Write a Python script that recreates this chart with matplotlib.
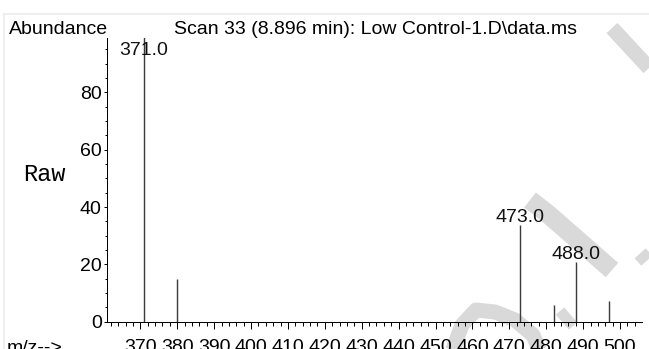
import matplotlib
matplotlib.use("Agg")
import matplotlib.pyplot as plt
from matplotlib.ticker import MultipleLocator
from matplotlib.lines import Line2D

# data
mz = [371.0, 380.0, 473.0, 482.0, 488.0, 497.0]
abundance = [100.0, 14.9, 33.7, 6.0, 20.8, 7.2]
peak_labels = ["371.0", "473.0", "488.0"]
peak_label_mz = [371.0, 473.0, 488.0]
peak_label_y = [93.2, 34.7, 21.8]
x_ticks = [370, 380, 390, 400, 410, 420, 430, 440, 450, 460, 470, 480, 490, 500]
y_ticks = [0, 20, 40, 60, 80]
title = "Scan 33 (8.896 min): Low Control-1.D\\data.ms"

plt.rcParams['font.family'] = ['Liberation Sans', 'DejaVu Sans']
W, H = 649, 349
PT = 72 / 100  # points per pixel
FS = 14

fig = plt.figure(figsize=(W / 100, H / 100), dpi=100)


def px(x, y):
    return (x / W, 1 - y / H)


# faint watermark strokes and frame (decoration)
wm = "#d9d9d9"
strokes = [
    [(530, 200), (548, 214), (612, 270)],
    [(452, 352), (462, 325), (476, 310), (495, 312), (515, 320), (533, 335), (540, 352)],
    [(560, 311), (573, 326)],
    [(612, 28), (649, 68)],
    [(638, 262), (649, 252)],
]
widths = [19, 15, 11, 15, 10]
for pts, w in zip(strokes, widths):
    xs = [p[0] / W for p in pts]
    ys = [1 - p[1] / H for p in pts]
    fig.add_artist(Line2D(xs, ys, color=wm, linewidth=w * PT, solid_capstyle="butt",
                          solid_joinstyle="round", zorder=0))
fig.add_artist(Line2D([4 / W, 1], [1 - 14 / H, 1 - 14 / H], color="#ebebeb", linewidth=1.5 * PT, zorder=0))
fig.add_artist(Line2D([4 / W, 4 / W], [0, 1 - 14 / H], color="#ebebeb", linewidth=1.5 * PT, zorder=0))

ax = fig.add_axes([107.3 / W, (H - 321.7) / H, (642 - 107.3) / W, (321.7 - 38) / H])
ax.patch.set_alpha(0)

ax.vlines(mz, 0, abundance, colors="#3a3a3a", linewidth=1.4 * PT * 1.0)
for lab, m, y in zip(peak_labels, peak_label_mz, peak_label_y):
    ax.text(m, y, lab, ha="center", va="baseline", fontsize=FS, color="#111111")

ax.set_xlim(361.05, 505.95)
ax.set_ylim(0, 99)
ax.set_xticks(x_ticks)
ax.set_yticks(y_ticks)
ax.xaxis.set_minor_locator(MultipleLocator(2))
ax.yaxis.set_minor_locator(MultipleLocator(5))
ax.tick_params(axis="both", which="both", colors="black", width=1.0 * PT, labelsize=FS)
ax.tick_params(axis="x", which="major", length=7.3 * PT, pad=9.5 * PT)
ax.tick_params(axis="x", which="minor", length=4 * PT)
ax.tick_params(axis="y", which="major", length=3.5 * PT, pad=2 * PT)
ax.tick_params(axis="y", which="minor", length=2.5 * PT)
for s in ["top", "right"]:
    ax.spines[s].set_visible(False)
for s in ["left", "bottom"]:
    ax.spines[s].set_linewidth(1.0 * PT)

fig.text(*px(9, 34), "Abundance", fontsize=FS, ha="left", va="baseline")
fig.text(*px(174, 34), title, fontsize=FS, ha="left", va="baseline")
fig.text(*px(23, 181), "Raw", fontsize=17, ha="left", va="baseline",
         family=["Liberation Mono", "DejaVu Sans Mono"])
fig.text(*px(7, 353), "m/z-->", fontsize=FS, ha="left", va="baseline")

fig.savefig("out.png", dpi=100)
